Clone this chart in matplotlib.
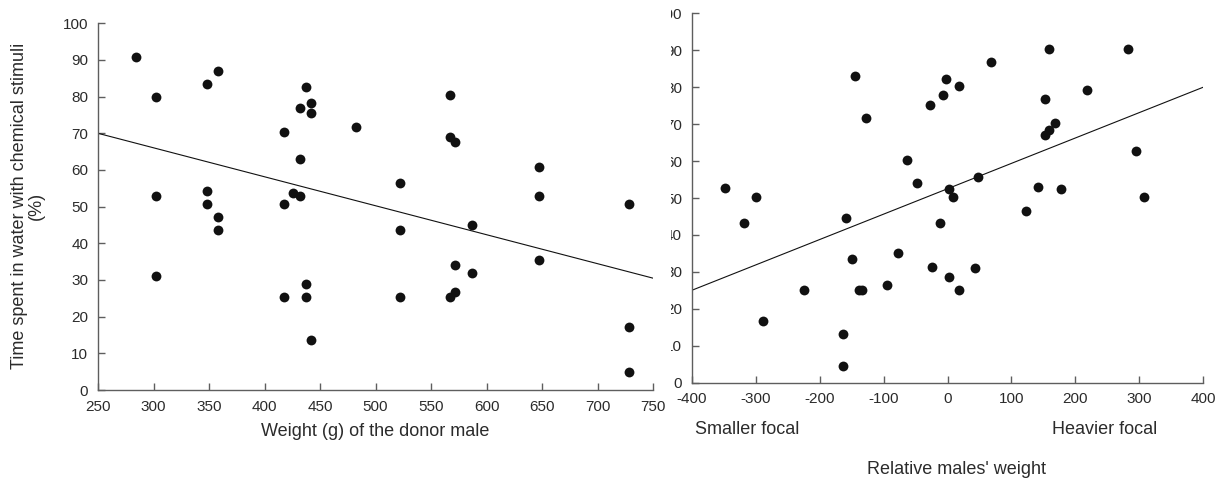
import matplotlib
matplotlib.use("Agg")
import matplotlib.pyplot as plt
import numpy as np
from matplotlib.transforms import Bbox

plt.rcParams['font.family'] = ['Liberation Sans', 'DejaVu Sans']
plt.rcParams['axes.unicode_minus'] = False

# Left panel: donor male weight (g) vs. % time in water with chemical stimuli
donor_weight = [284, 302, 302, 302, 348, 358, 348, 348, 358, 358,
                418, 418, 418, 426, 432, 432, 432, 437, 442, 442,
                437, 437, 442, 482,
                522, 522, 522, 567, 567, 572, 572, 567, 572, 587,
                587, 647, 647, 647, 728, 728, 728]
donor_time = [90.7, 79.8, 52.9, 31.1, 83.5, 87.0, 54.4, 50.7, 47.1, 43.5,
              70.3, 50.7, 25.3, 53.6, 52.9, 76.9, 63.1, 82.7, 78.4, 75.5,
              28.9, 25.3, 13.6, 71.7,
              56.5, 43.5, 25.3, 80.5, 68.9, 67.5, 34.0, 25.3, 26.7, 44.9,
              31.8, 60.9, 52.9, 35.5, 50.7, 17.3, 4.9]
left_fit = (89.75, -0.079)   # intercept, slope

# Right panel: relative males' weight vs. % time
rel_weight = [-348, -318, -299, -288, -224, -164, -164, -158, -149, -144,
              -139, -133, -128, -94, -78, -63, -48, -28, -24, -12,
              -7, -2, 3, 8, 3, 18, 18, 43, 48, 68,
              123, 142, 153, 158, 153, 158, 168, 178, 218, 283,
              294, 308]
rel_time = [52.7, 43.2, 50.2, 16.8, 25.2, 13.1, 4.4, 44.7, 33.4, 82.9,
            25.2, 25.2, 71.6, 26.5, 35.0, 60.3, 54.1, 75.3, 31.4, 43.2,
            78.0, 82.2, 52.4, 50.2, 28.7, 80.4, 25.2, 31.0, 55.8, 86.7,
            46.5, 52.9, 76.8, 90.3, 67.0, 68.5, 70.3, 52.4, 79.2, 90.3,
            62.8, 50.2]
right_fit = (52.5, 0.06875)  # intercept, slope

left_xticks = list(range(250, 751, 50))
right_xticks = list(range(-400, 401, 100))
yticks = list(range(0, 101, 10))

W, H = 1222, 487
fig = plt.figure(figsize=(W / 100, H / 100), dpi=100)

axL = fig.add_axes([98 / W, (H - 390) / H, 555 / W, 366.7 / H])
axR = fig.add_axes([691.7 / W, (H - 382.7) / H, 511.6 / W, 369.4 / H])

spine_col = '#5e5e5e'
text_col = '#2b2b2b'
dot_col = '#111111'

for ax in (axL, axR):
    for s in ('top', 'right'):
        ax.spines[s].set_visible(False)
    for s in ('left', 'bottom'):
        ax.spines[s].set_color(spine_col)
        ax.spines[s].set_linewidth(1.0)
    ax.tick_params(direction='in', length=5, width=1.0, color=spine_col,
                   labelsize=11, labelcolor=text_col, pad=7)
    ax.set_ylim(0, 100)
    ax.set_yticks(yticks)

# Left panel
axL.set_xlim(250, 750)
axL.set_xticks(left_xticks)
axL.scatter(donor_weight, donor_time, s=50, color=dot_col, zorder=3,
            linewidths=0)
xl = np.array([250, 750])
axL.plot(xl, left_fit[0] + left_fit[1] * xl, color='#111111', lw=0.8)
axL.set_xlabel('Weight (g) of the donor male', fontsize=13, color=text_col)
axL.xaxis.label.set_va('center')
axL.xaxis.set_label_coords(0.5, -0.112)
fig.text(28 / W, 1 - 206 / H,
         'Time spent in water with chemical stimuli\n(%)',
         rotation=90, ha='center', va='center', multialignment='center',
         fontsize=13, color=text_col, linespacing=1.05)

# Right panel
axR.set_xlim(-400, 400)
axR.set_xticks(right_xticks)
axR.scatter(rel_weight, rel_time, s=50, color=dot_col, zorder=3,
            linewidths=0)
xr = np.array([-400, 400])
axR.plot(xr, right_fit[0] + right_fit[1] * xr, color='#111111', lw=0.8)
axR.text(0.108, -0.128, 'Smaller focal', transform=axR.transAxes,
         ha='center', va='center', fontsize=13, color=text_col)
axR.text(0.808, -0.128, 'Heavier focal', transform=axR.transAxes,
         ha='center', va='center', fontsize=13, color=text_col)
axR.text(0.517, -0.236, "Relative males' weight", transform=axR.transAxes,
         ha='center', va='center', fontsize=13, color=text_col)

# Right panel's y tick labels are cut off on their left side
fig.canvas.draw()
clip = Bbox.from_extents(671, 0, W, H)
for lab in axR.get_yticklabels():
    lab.set_clip_box(clip)
    lab.set_clip_on(True)

fig.savefig('out.png', dpi=100)
